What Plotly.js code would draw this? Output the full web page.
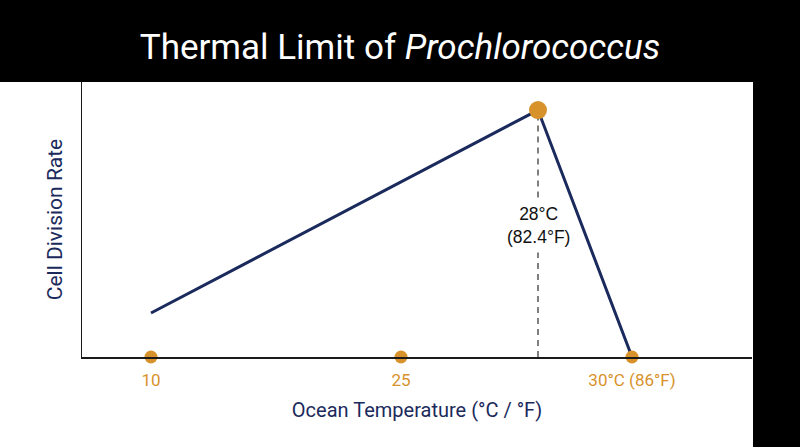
<!DOCTYPE html>
<html>
<head>
<meta charset="utf-8">
<script src="https://cdn.plot.ly/plotly-3.0.1.min.js"></script>
<style>
  html, body { margin: 0; padding: 0; background: #fff; }
  #chart { width: 800px; height: 447px; }
</style>
</head>
<body>
<div id="chart"></div>
<script>
// schematic axis: the drawn temperature axis is not linear, so each
// temperature gets a position along it
var tempC = [10, 25, 28, 30];
var axisPos = [0, 1, 1.548, 1.924];

var tickTemps = [10, 25, 30];
var tickLabels = ['10', '25', '30°C (86°F)'];

// relative cell division rate (no units on the chart)
var curveTemps = [10, 28, 30];
var divisionRate = [0.16, 0.898, 0];

var peakTemp = 28;
var peakLabel = '28°C<br>(82.4°F)';

var navy = '#1b2a5c';
var orange = '#d8922c';

function posOf(t) {
    return axisPos[tempC.indexOf(t)];
}

var curveX = curveTemps.map(posOf);
var tickX = tickTemps.map(posOf);
var peakX = posOf(peakTemp);
var peakRate = divisionRate[curveTemps.indexOf(peakTemp)];

// label sits halfway-ish down the dashed drop line, which breaks around it
var labelY = 0.48;
var gap = 0.1;

var dashTrace = {
    x: [peakX, peakX, null, peakX, peakX],
    y: [0, labelY - gap, null, labelY + gap, peakRate],
    mode: 'lines',
    line: { color: '#555555', width: 1.5, dash: '6px,5px' },
    connectgaps: false,
    hoverinfo: 'skip'
};

var curveTrace = {
    x: curveX,
    y: divisionRate,
    mode: 'lines',
    line: { color: navy, width: 3 },
    cliponaxis: false
};

var tickDots = {
    x: tickX,
    y: tickX.map(function () { return 0; }),
    mode: 'markers',
    marker: { color: orange, size: 13 },
    cliponaxis: false
};

var peakDot = {
    x: [peakX],
    y: [peakRate],
    mode: 'markers',
    marker: { color: orange, size: 18 },
    cliponaxis: false
};

var data = [dashTrace, curveTrace, tickDots, peakDot];

var layout = {
    width: 800,
    height: 447,
    showlegend: false,
    paper_bgcolor: '#ffffff',
    plot_bgcolor: '#ffffff',
    margin: { l: 82, r: 48, t: 82, b: 90 },
    title: {
        text: 'Thermal Limit of <i>Prochlorococcus</i>',
        font: { family: 'Roboto', size: 35, color: '#ffffff' },
        x: 0.5,
        xref: 'container',
        y: 0.895,
        yref: 'container',
        yanchor: 'middle'
    },
    xaxis: {
        range: [-0.276, 2.404],
        showgrid: false,
        zeroline: false,
        showline: true,
        linecolor: '#1a1a1a',
        linewidth: 1.5,
        tickvals: tickX,
        ticktext: tickLabels,
        ticks: '',
        ticklabelstandoff: 7,
        tickfont: { family: 'Roboto', size: 17, color: orange },
        title: {
            text: 'Ocean Temperature (°C / °F)',
            font: { family: 'Roboto', size: 20, color: navy },
            standoff: 14
        },
        fixedrange: true
    },
    yaxis: {
        range: [0, 1],
        showgrid: false,
        zeroline: false,
        showline: true,
        linecolor: '#1a1a1a',
        linewidth: 1.5,
        showticklabels: false,
        ticks: '',
        title: {
            text: 'Cell Division Rate',
            font: { family: 'Roboto', size: 21, color: navy },
            standoff: 12
        },
        fixedrange: true
    },
    shapes: [
        // black title band
        {
            type: 'rect', xref: 'paper', yref: 'paper',
            x0: -0.13, x1: 1.08, y0: 1, y1: 1.31,
            fillcolor: '#000000', line: { width: 0 }, layer: 'below'
        },
        // black strip on the right
        {
            type: 'rect', xref: 'paper', yref: 'paper',
            x0: 1.0015, x1: 1.08, y0: -0.34, y1: 1.31,
            fillcolor: '#000000', line: { width: 0 }, layer: 'below'
        }
    ],
    annotations: [
        {
            x: peakX, y: labelY, xref: 'x', yref: 'y',
            text: peakLabel,
            showarrow: false,
            font: { family: 'Liberation Sans', size: 17.5, color: '#111111' }
        }
    ]
};

Plotly.newPlot('chart', data, layout, { displayModeBar: false, staticPlot: true });
</script>
</body>
</html>
